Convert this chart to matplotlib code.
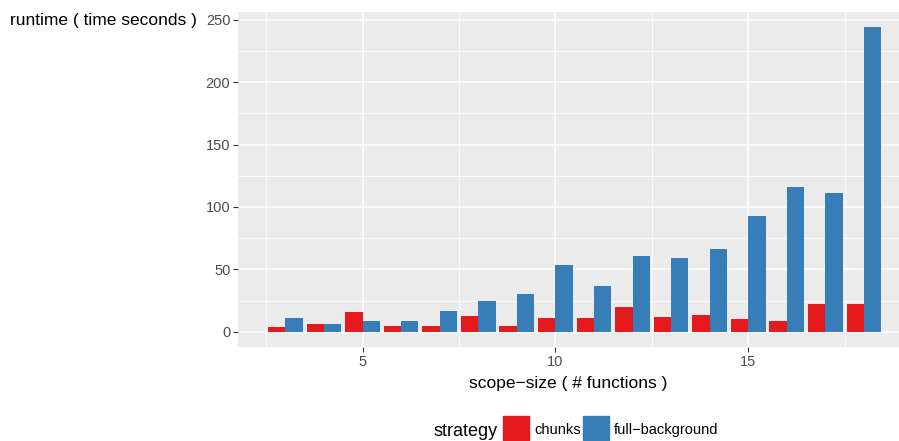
import matplotlib.pyplot as plt
import numpy as np
from matplotlib.patches import Rectangle

plt.rcParams['font.family'] = ['Liberation Sans', 'DejaVu Sans']

# data
scope_size = [3, 4, 5, 6, 7, 8, 9, 10, 11, 12, 13, 14, 15, 16, 17, 18]
chunks = [4, 6, 15.5, 5, 5, 13, 5, 11, 11, 20, 12, 13.5, 10.5, 9, 22.5, 22.5]
full_background = [11, 6, 8.5, 8.5, 16.5, 24.5, 30, 53.5, 37, 61, 59.5, 66, 92.5, 116, 111, 244]
y_ticks = [0, 50, 100, 150, 200, 250]
x_ticks = [5, 10, 15]

red = '#E41A1C'
blue = '#377EB8'

fig = plt.figure(figsize=(8.99, 4.41), dpi=100)
ax = fig.add_axes([238 / 899, 1 - 347 / 441, 1 - 238 / 899, 335 / 441])
ax.set_facecolor('#EBEBEB')

x = np.array(scope_size)
w = 0.45
ax.bar(x - w / 2, chunks, width=w, color=red, zorder=3)
ax.bar(x + w / 2, full_background, width=w, color=blue, zorder=3)

ax.set_xlim(1.77, 18.91)
ax.set_ylim(-12.2, 256.2)

ax.set_xticks(x_ticks)
ax.set_xticks([2.5, 7.5, 12.5, 17.5], minor=True)
ax.set_yticks(y_ticks)
ax.set_yticks([25, 75, 125, 175, 225], minor=True)
ax.grid(which='major', color='white', linewidth=1.1, zorder=1)
ax.grid(which='minor', color='white', linewidth=0.55, zorder=1)
ax.set_axisbelow(True)
for s in ax.spines.values():
    s.set_visible(False)
ax.tick_params(which='major', length=3.5, width=0.8, color='#333333',
               labelsize=10.5, labelcolor='#4D4D4D', pad=2)
ax.tick_params(which='minor', length=0)

ax.set_xlabel('scope\u2212size ( # functions )', fontsize=12.5, labelpad=5)
fig.text(10 / 899, 1 - 20 / 441, 'runtime ( time seconds )', fontsize=12.5,
         ha='left', va='center')

# legend
fig.text(433 / 899, 1 - 431 / 441, 'strategy', fontsize=13, ha='left', va='center')
fig.patches.append(Rectangle((503 / 899, 1 - 440 / 441), 26 / 899, 24 / 441,
                             transform=fig.transFigure, color=red))
fig.patches.append(Rectangle((583 / 899, 1 - 440 / 441), 26 / 899, 24 / 441,
                             transform=fig.transFigure, color=blue))
fig.text(534 / 899, 1 - 430 / 441, 'chunks', fontsize=10.5, ha='left', va='center')
fig.text(614 / 899, 1 - 430 / 441, 'full\u2212background', fontsize=10.5, ha='left', va='center')

fig.savefig('out.png', dpi=100)
